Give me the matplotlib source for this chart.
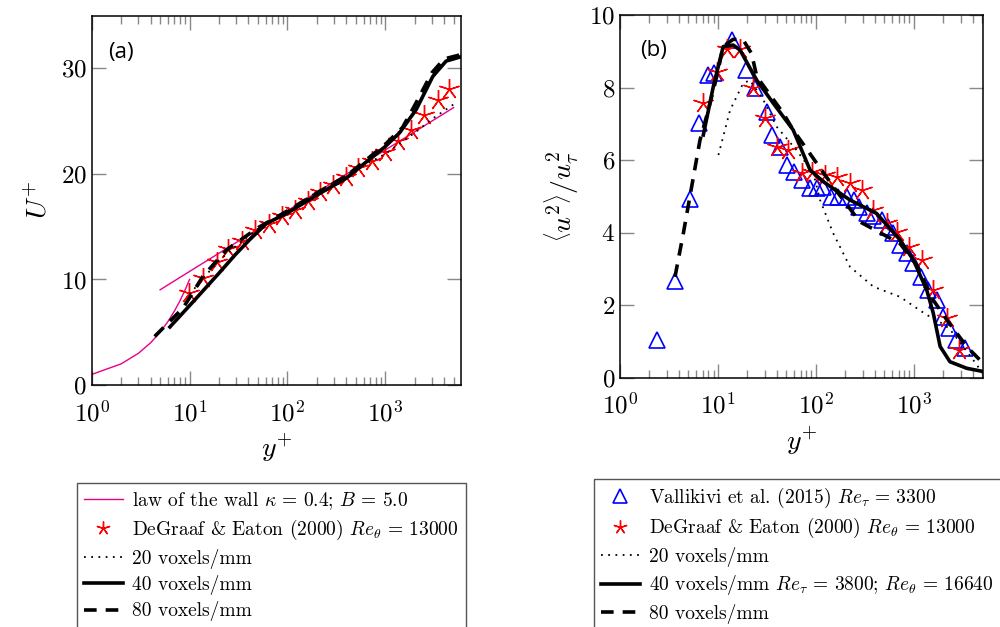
import matplotlib
matplotlib.use('Agg')
import matplotlib.pyplot as plt
from matplotlib.ticker import LogLocator, NullFormatter

plt.rcParams['font.family'] = 'cmr10'
plt.rcParams['mathtext.fontset'] = 'cm'
plt.rcParams['axes.formatter.use_mathtext'] = True

# ---------- panel (a) : mean velocity ----------
sub_y = [1, 2, 3, 4, 5, 6, 7, 8, 9, 10]
sub_u = [1, 2, 3, 4, 5, 6, 7, 8, 9, 10]
log_y = [5, 10, 20, 50, 100, 200, 500, 1000, 2000, 5000]
log_u = [9.02, 10.76, 12.49, 14.78, 16.51, 18.25, 20.54, 22.27, 24.00, 26.29]

dg_y = [9.9, 13.6, 18.9, 24.8, 34, 46.4, 64.9, 88.9, 119, 162, 217, 292, 400,
        525, 736, 984, 1346, 1841, 2513, 3440, 4530]
dg_u = [8.76, 10.18, 11.7, 12.87, 13.6, 14.7, 15.3, 15.97, 16.6, 17.4, 18.25,
        18.98, 19.67, 20.56, 21.2, 22.1, 23.1, 24.2, 25.6, 27.0, 28.05]

v20_y = [10, 15, 20, 30, 50, 100, 200, 500, 1000, 2000, 3000, 5000]
v20_u = [8.6, 10.5, 11.8, 13.2, 14.8, 16.5, 18.3, 20.4, 21.9, 23.9, 25.2, 26.6]

v40_y = [6.3, 10.9, 20, 29, 41, 61, 100, 200, 400, 1000, 1400, 2070, 3063, 4190, 5900]
v40_u = [5.5, 7.9, 10.6, 12.3, 13.76, 15.3, 16.3, 18.0, 19.6, 22.6, 23.9, 26.1, 29.25, 30.7, 31.1]

v80_y = [4.4, 8.6, 13.7, 23.8, 50, 100, 200, 400, 1000, 1500, 2000, 3000, 4000, 5900]
v80_u = [4.6, 7.3, 10.3, 12.8, 14.9, 16.5, 18.2, 19.8, 22.8, 24.4, 26.5, 29.6, 30.9, 31.3]

# ---------- panel (b) : streamwise variance ----------
va_y = [2.37, 3.64, 5.18, 6.45, 7.9, 9.0, 14.0, 19.3, 23.9, 31.4, 35.3, 43, 50.2,
        60, 71.4, 86.9, 102, 117, 144, 169, 206, 246, 277, 329, 385, 468, 547,
        615, 720, 843, 984, 1170, 1400, 1700, 1990, 2290, 2680, 3310]
va_uu = [1.04, 2.67, 4.92, 7.03, 8.35, 8.4, 9.31, 8.48, 7.98, 7.33, 6.69, 6.37,
         5.86, 5.68, 5.45, 5.22, 5.22, 5.27, 4.99, 4.99, 4.99, 4.9, 4.71, 4.53,
         4.46, 4.35, 4.16, 3.98, 3.66, 3.43, 3.15, 2.78, 2.42, 2.14, 1.68, 1.36,
         1.04, 0.81]

dgb_y = [7.08, 9.7, 12.3, 16.8, 22.6, 30.2, 39.7, 52.2, 71.4, 90.4, 124, 165,
         222, 292, 385, 526, 665, 895, 1197, 1574, 2157, 2900]
dgb_uu = [7.57, 8.44, 9.05, 9.05, 8.0, 7.15, 6.37, 6.28, 5.64, 5.68, 5.59, 5.54,
          5.36, 5.17, 4.62, 4.26, 4.03, 3.61, 3.25, 2.42, 1.64, 0.76]

b20_y = [10.1, 13.3, 18.1, 21.2, 29, 39.7, 63, 94, 110, 150, 222, 385, 720,
         1350, 1700, 2300, 3000, 4000, 5100]
b20_uu = [6.14, 7.38, 8.12, 8.2, 7.66, 6.92, 6.28, 5.64, 4.9, 3.98, 3.06, 2.51,
          2.23, 1.73, 1.6, 1.35, 0.95, 0.5, 0.1]

b40_y = [7.08, 8.95, 11.3, 14.3, 16.8, 24.9, 36.6, 58.5, 86.9, 118, 222, 415,
         720, 984, 1350, 1574, 1850, 2330, 3450, 5100]
b40_uu = [6.69, 8.02, 9.13, 9.17, 9.03, 8.2, 7.57, 6.83, 5.73, 5.41, 4.9, 4.53,
          3.8, 3.25, 2.42, 1.78, 0.86, 0.44, 0.26, 0.17]

b80_y = [3.64, 4.43, 5.39, 6.55, 7.97, 9.7, 11.3, 14.3, 18.1, 22.0, 24.9, 46.4,
         58.5, 150, 280, 720, 1070, 1574, 2157, 3450, 4700]
b80_uu = [2.78, 3.98, 5.27, 6.55, 7.38, 8.3, 9.13, 9.33, 9.31, 8.94, 8.3, 7.29,
          6.83, 5.27, 4.3, 3.7, 3.1, 2.14, 1.6, 0.86, 0.49]

magenta = '#e6008c'
star = (5, 2, 0)
dotted = (0, (1, 3))
dashed = (0, (3.5, 2.5))

fig = plt.figure(figsize=(10, 6.27), dpi=100)
axa = fig.add_axes([0.0917, 0.386, 0.369, 0.589])
axb = fig.add_axes([0.62, 0.3976, 0.3633, 0.5785])

# panel (a)
l_law, = axa.plot(sub_y, sub_u, color=magenta, lw=1)
axa.plot(log_y, log_u, color=magenta, lw=1)
l_dg, = axa.plot(dg_y, dg_u, ls='none', marker=star, ms=15, mec='red', mfc='none', mew=1.0)
l20, = axa.plot(v20_y, v20_u, color='black', lw=1.3, ls=dotted)
l40, = axa.plot(v40_y, v40_u, color='black', lw=2.6)
l80, = axa.plot(v80_y, v80_u, color='black', lw=2.6, ls=dashed)
axa.set_xlim(1, 5900)
axa.set_ylim(0, 35)
axa.set_yticks([0, 10, 20, 30])
axa.set_ylabel('$U^{+}$', fontsize=20, labelpad=6)
axa.set_xlabel('$y^{+}$', fontsize=20, labelpad=4)
axa.text(0.044, 0.93, '(a)', transform=axa.transAxes, family='Open Sans',
         fontsize=16, va='top', ha='left')

# panel (b)
l_va, = axb.plot(va_y, va_uu, ls='none', marker='^', ms=12, mec='blue', mfc='none', mew=1.2)
l_dgb, = axb.plot(dgb_y, dgb_uu, ls='none', marker=star, ms=15, mec='red', mfc='none', mew=1.0)
b20, = axb.plot(b20_y, b20_uu, color='black', lw=1.3, ls=dotted)
b40, = axb.plot(b40_y, b40_uu, color='black', lw=2.6)
b80, = axb.plot(b80_y, b80_uu, color='black', lw=2.6, ls=dashed)
axb.set_xlim(1, 5100)
axb.set_ylim(0, 10)
axb.set_yticks([0, 2, 4, 6, 8, 10])
axb.set_ylabel(r'$\left\langle u^{2}\right\rangle/u_{\tau}^{2}$', fontsize=20, labelpad=6)
axb.set_xlabel('$y^{+}$', fontsize=20, labelpad=4)
axb.text(0.055, 0.93, '(b)', transform=axb.transAxes, family='Open Sans',
         fontsize=16, va='top', ha='left')

for ax in (axa, axb):
    ax.set_xscale('log')
    ax.xaxis.set_major_locator(LogLocator(base=10, numticks=10))
    ax.xaxis.set_minor_locator(LogLocator(base=10, subs=range(2, 10), numticks=20))
    ax.xaxis.set_minor_formatter(NullFormatter())
    ax.tick_params(which='both', direction='in', top=True, right=True,
                   color='#888888', labelsize=18)
    ax.tick_params(which='major', length=10, width=1)
    ax.tick_params(which='minor', length=6, width=1)
    ax.tick_params(axis='x', pad=11)
    for s in ax.spines.values():
        s.set_linewidth(1.1)

leg_kw = dict(loc='upper left', fontsize=14, frameon=True, fancybox=False,
              edgecolor='#555555', framealpha=1, handlelength=2.0,
              handletextpad=0.5, labelspacing=0.33, borderpad=0.35,
              borderaxespad=0)
la = fig.legend([l_law, l_dg, l20, l40, l80],
                [r'law of the wall $\kappa\,=\,0.4$; $B\,=\,5.0$',
                 r'DeGraaf & Eaton (2000) $Re_{\theta}\,=\,13000$',
                 '20 voxels/mm', '40 voxels/mm', '80 voxels/mm'],
                bbox_to_anchor=(0.077, 1 - 483 / 627), **leg_kw)
la.get_frame().set_linewidth(1.0)
lb = fig.legend([l_va, l_dgb, b20, b40, b80],
                [r'Vallikivi et al. (2015) $Re_{\tau}\,=\,3300$',
                 r'DeGraaf & Eaton (2000) $Re_{\theta}\,=\,13000$',
                 '20 voxels/mm',
                 r'40 voxels/mm $Re_{\tau}\,=\,3800$; $Re_{\theta}\,=\,16640$',
                 '80 voxels/mm'],
                bbox_to_anchor=(0.594, 1 - 479 / 627), **leg_kw)
lb.get_frame().set_linewidth(1.0)
for lg in (la, lb):
    for h in lg.legend_handles:
        if h.get_marker() not in (None, 'None', ''):
            h.set_markersize(10)

fig.savefig('out.png', dpi=100)
